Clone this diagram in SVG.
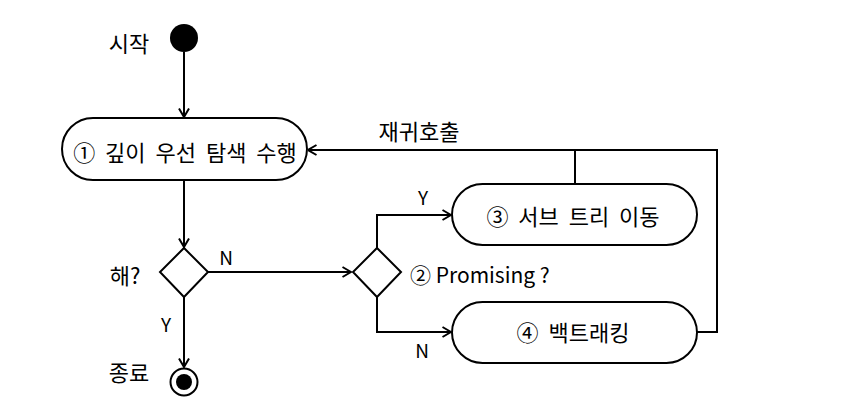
<svg xmlns="http://www.w3.org/2000/svg" width="855" height="401" viewBox="0 0 855 401">
<defs>
<style>
.t{font-family:"Noto Sans CJK KR","Noto Sans",sans-serif;font-size:22px;fill:#000;}
.w{word-spacing:5px;}
.l{font-size:19px;}
.p{font-size:21px;}
.n{fill:#fff;stroke:#000;stroke-width:2;}
.c{fill:none;stroke:#000;stroke-width:2;}
</style>
<marker id="a" viewBox="0 0 10 12" refX="9.5" refY="6" markerWidth="10" markerHeight="12" markerUnits="userSpaceOnUse" orient="auto">
<path d="M1,1 L9.5,6 L1,11" fill="none" stroke="#000" stroke-width="2"/>
</marker>
</defs>
<rect width="855" height="401" fill="#fff"/>
<g id="connectors">
<line class="c" x1="184" y1="52" x2="184" y2="117" marker-end="url(#a)"/>
<line class="c" x1="184" y1="180" x2="184" y2="247" marker-end="url(#a)"/>
<line class="c" x1="208" y1="272" x2="351" y2="272" marker-end="url(#a)"/>
<line class="c" x1="184" y1="297" x2="184" y2="367" marker-end="url(#a)"/>
<polyline class="c" points="377,248 377,215 451,215" marker-end="url(#a)"/>
<polyline class="c" points="377,297 377,332 451,332" marker-end="url(#a)"/>
<polyline class="c" points="697,332 717,332 717,150 308,150" marker-end="url(#a)"/>
<line class="c" x1="575" y1="150" x2="575" y2="184"/>
<text class="t" x="419" y="140" text-anchor="middle">재귀호출</text>
<text class="t l" x="226" y="265" text-anchor="middle">N</text>
<text class="t l" x="166" y="332" text-anchor="middle">Y</text>
<text class="t l" x="423" y="205" text-anchor="middle">Y</text>
<text class="t l" x="422" y="358" text-anchor="middle">N</text>
</g>
<g id="start">
<circle cx="184" cy="38" r="14" fill="#000"/>
<text class="t" x="129" y="52" text-anchor="middle">시작</text>
</g>
<g id="node1">
<rect class="n" x="62" y="118" width="245" height="62" rx="31"/>
<text class="t w" x="185" y="161" text-anchor="middle">① 깊이 우선 탐색 수행</text>
</g>
<g id="decision1">
<polygon class="n" points="184,248 208,272 184,297 160,272"/>
<text class="t" x="125" y="284" text-anchor="middle">해?</text>
</g>
<g id="decision2">
<polygon class="n" points="377,248 401,272 377,297 353,272"/>
<text class="t p" x="410" y="283">② Promising ?</text>
</g>
<g id="node3">
<rect class="n" x="452" y="184" width="245" height="61" rx="30.5"/>
<text class="t w" x="573" y="225" text-anchor="middle">③ 서브 트리 이동</text>
</g>
<g id="node4">
<rect class="n" x="452" y="302" width="245" height="61" rx="30.5"/>
<text class="t w" x="573" y="341" text-anchor="middle">④ 백트래킹</text>
</g>
<g id="end">
<circle cx="184" cy="382" r="13.5" fill="#fff" stroke="#000" stroke-width="2"/>
<circle cx="184" cy="382" r="8" fill="#000"/>
<text class="t" x="129" y="381" text-anchor="middle">종료</text>
</g>
</svg>
